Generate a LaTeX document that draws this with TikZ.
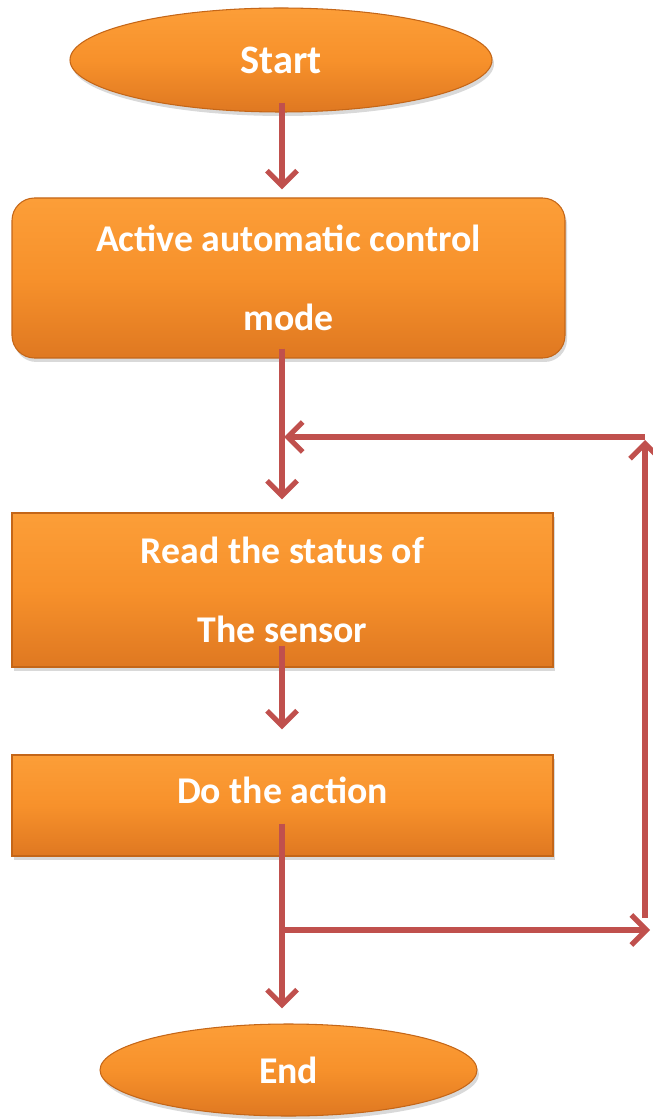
\documentclass[tikz,border=0pt]{standalone}
\usepackage{fontspec}
\setmainfont{Carlito}
\usetikzlibrary{shapes.geometric, arrows.meta, shadows}
\definecolor{flow-top}{HTML}{FC9E38}
\definecolor{flow-mid}{HTML}{F7912B}
\definecolor{flow-bottom}{HTML}{DF7821}
\definecolor{flow-edge}{HTML}{C46618}
\definecolor{flow-arrow}{HTML}{C0504D}

\begin{document}
\begin{tikzpicture}[
    flowbox/.style={draw=flow-edge, line width=0.6pt, top color=flow-top,
      bottom color=flow-bottom, middle color=flow-mid,
      drop shadow={opacity=0.3, shadow xshift=0.04cm, shadow yshift=-0.08cm},
      text=white, align=center, inner sep=0pt,
      font=\bfseries\fontsize{21.5}{26}\selectfont},
    terminal/.style={flowbox, ellipse},
    flowline/.style={draw=flow-arrow, line width=3pt},
    flowarrow/.style={flowline, -{Straight Barb[length=0.3cm, width=0.6cm, line width=3pt]}}
  ]
    \useasboundingbox (0,0) rectangle (13.06,-22.38);

    \node[terminal, minimum width=8.44cm, minimum height=2.08cm,
      font=\bfseries\fontsize{23}{26}\selectfont] (start) at (5.62,-1.2) {Start};
    \node[flowbox, rounded corners=0.45cm, minimum width=11.06cm, minimum height=3.2cm]
      (activate) at (5.77,-5.56) {Active automatic control\\[19pt]mode};
    \node[flowbox, minimum width=10.82cm, minimum height=3.08cm]
      (readsensor) at (5.65,-11.8) {Read the status of\\[19pt]The sensor};
    \node[flowbox, minimum width=10.82cm, minimum height=2.02cm,
      label={[text=white, font=\bfseries\fontsize{21.5}{26}\selectfont, yshift=0.3cm]center:Do the action}]
      (doaction) at (5.65,-16.11) {};
    \node[terminal, minimum width=7.54cm, minimum height=1.84cm] (stop) at (5.77,-21.4) {End};

    % loop corners
    \coordinate (loopin) at (5.64,-8.74);
    \coordinate (loopout) at (5.64,-18.6);
    \coordinate (looptop) at (12.9,-8.74);
    \coordinate (loopbot) at (12.9,-18.36);

    \draw[flowarrow] ([yshift=0.2cm]start.south -| loopin) -- ([yshift=0.16cm]activate.north -| loopin);
    \draw[flowarrow] ([yshift=0.2cm]activate.south -| loopin) -- ([yshift=0.26cm]readsensor.north -| loopin);
    \draw[flowarrow] ([yshift=0.44cm]readsensor.south -| loopin) -- ([yshift=0.5cm]doaction.north -| loopin);
    \draw[flowarrow] ([yshift=0.66cm]doaction.south -| loopin) -- ([yshift=0.3cm]stop.north -| loopin);
    \draw[flowarrow] (loopout) -- ([xshift=0.1cm]loopout -| loopbot);
    \draw[flowarrow] (loopbot) -- ([yshift=-0.06cm]looptop);
    \draw[flowarrow] (looptop) -- ([xshift=0.04cm]loopin);
  \end{tikzpicture}
\end{document}
